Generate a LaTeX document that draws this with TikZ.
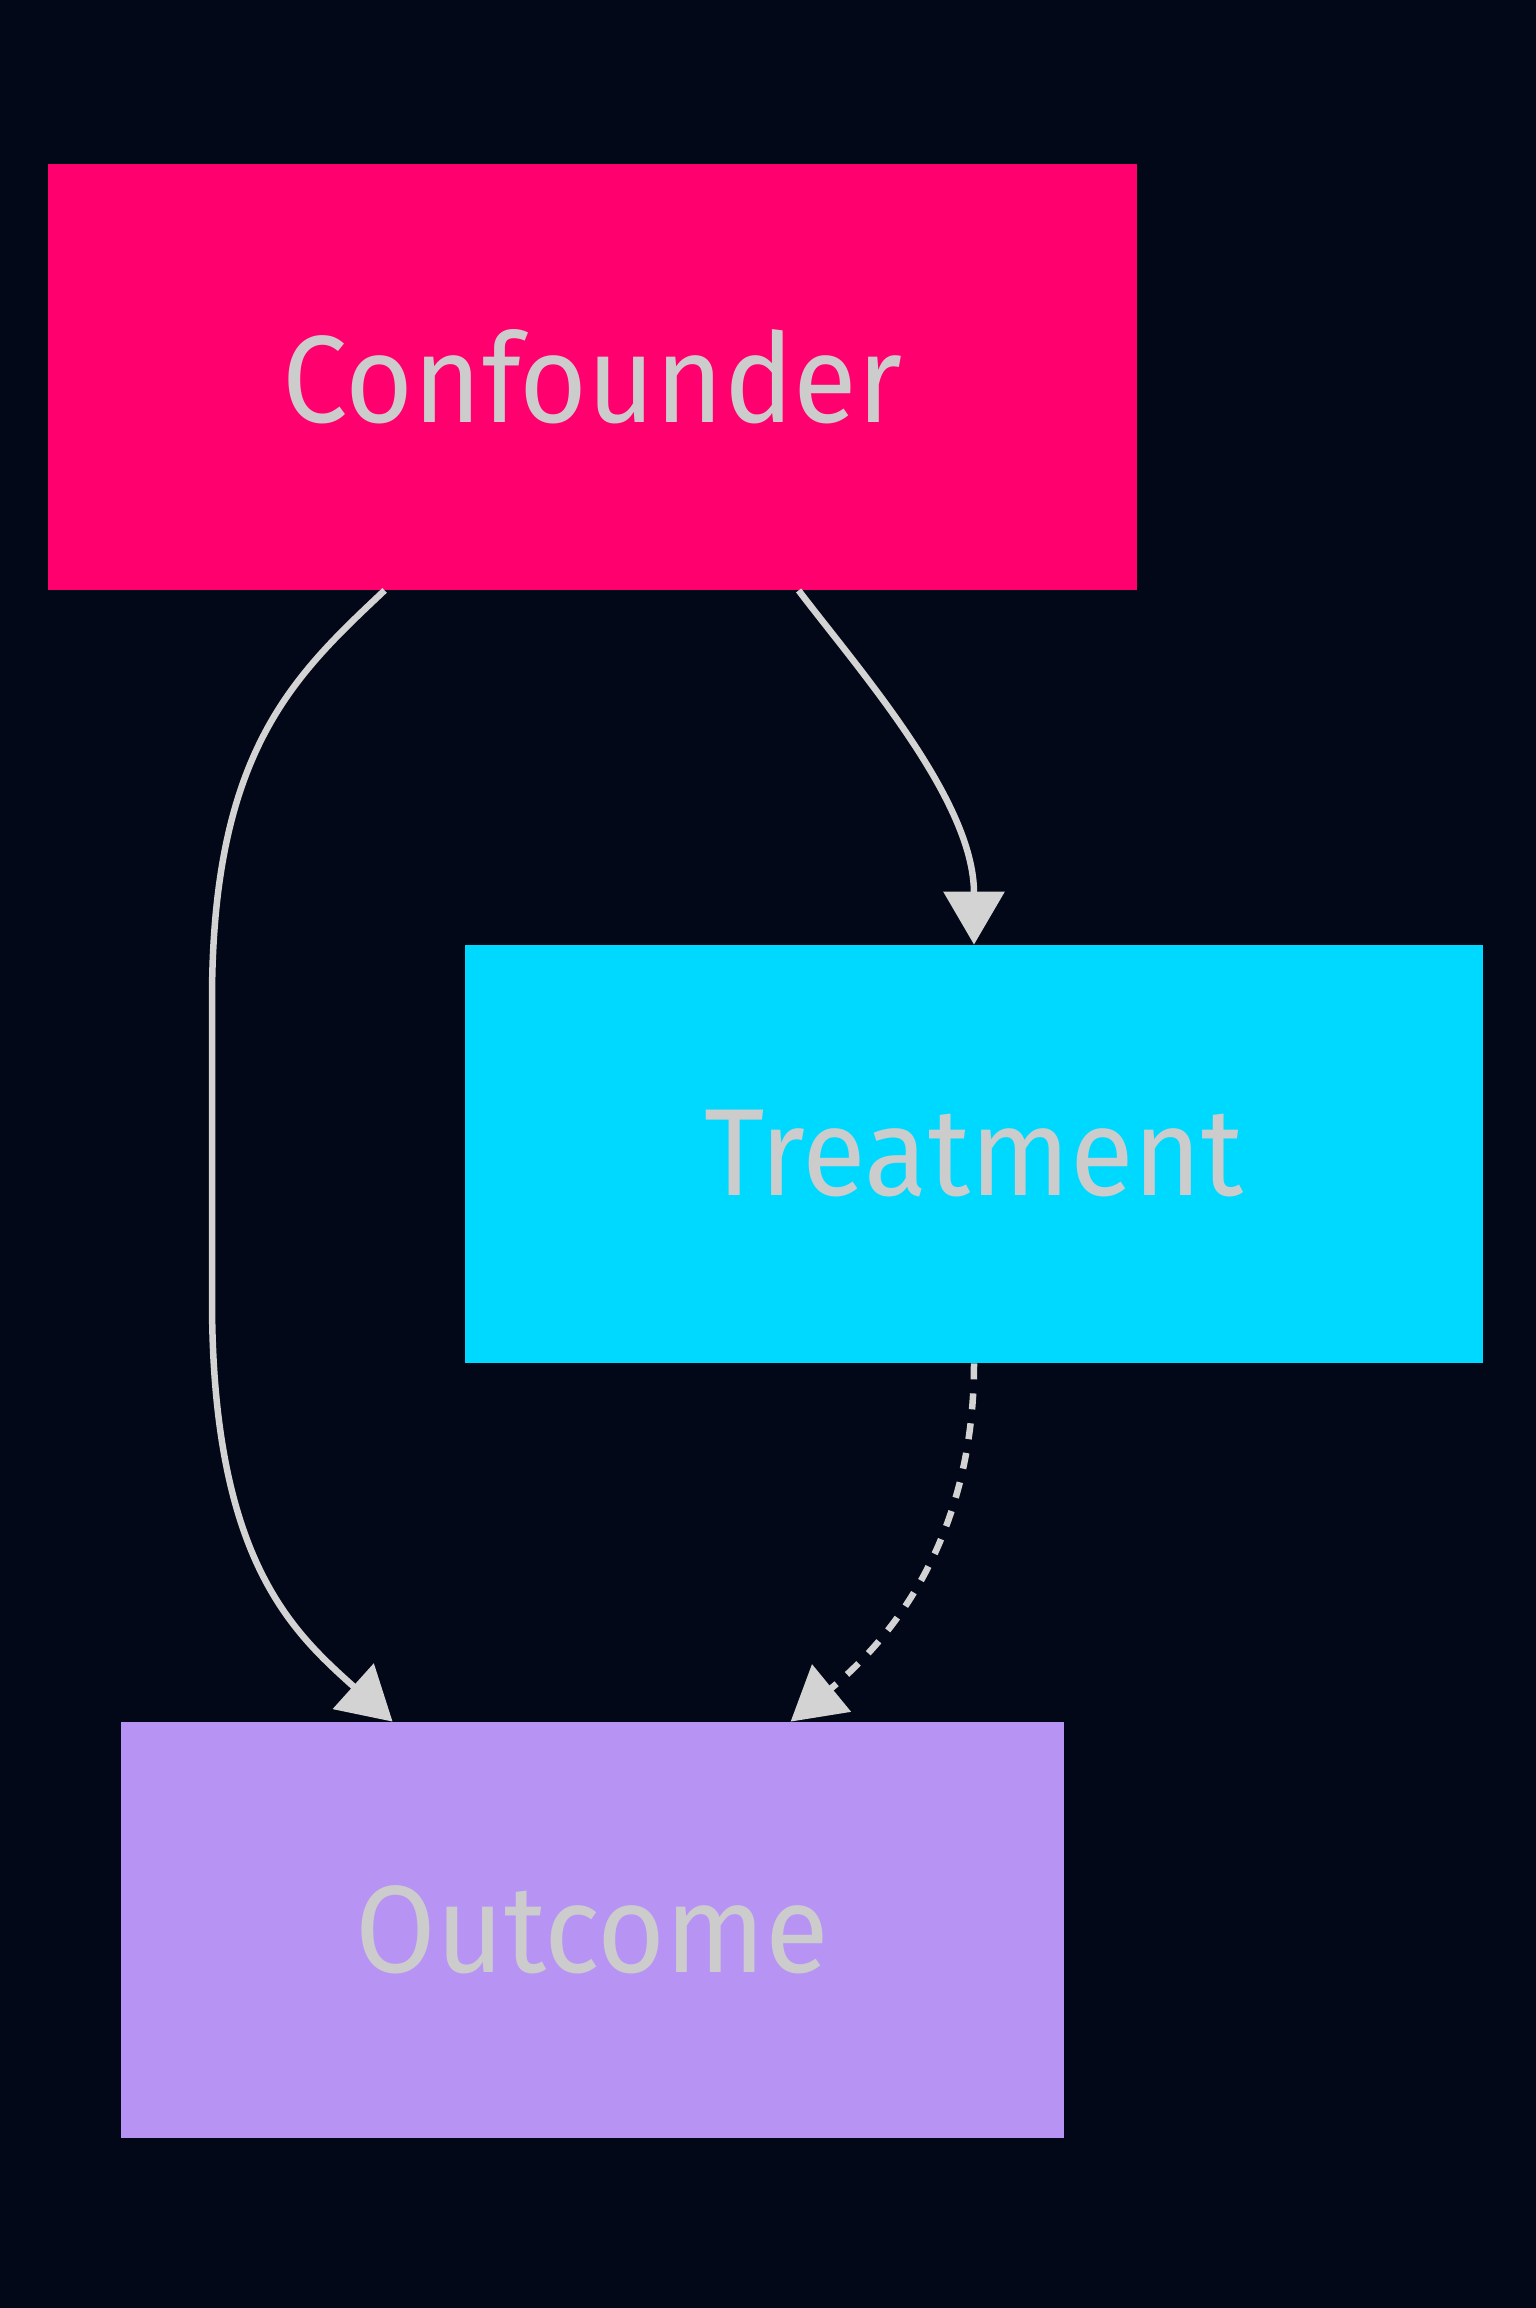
\documentclass[tikz,border=0pt]{standalone}
\usepackage{fontspec}
\setmainfont{Fira Sans}[FakeStretch=0.94]
\usetikzlibrary{arrows.meta}
\definecolor{bg}{HTML}{020817}
\definecolor{confc}{HTML}{FF006E}
\definecolor{treatc}{HTML}{00D9FF}
\definecolor{outcc}{HTML}{B794F4}
\definecolor{txt}{HTML}{CCCCCC}
\definecolor{edgec}{HTML}{D3D3D3}
\begin{document}
\begin{tikzpicture}[x=0.5pt,y=-0.5pt,
  box/.style={rectangle, inner sep=0pt, text=txt, font=\fontsize{62}{70}\selectfont},
  link/.style={draw=edgec, line width=3.25pt, -{Triangle[length=26.5pt,width=30pt]}}]
\fill[bg] (0,0) rectangle (1536,2308);
\useasboundingbox (0,0) rectangle (1536,2308);
\node[box, fill=confc, minimum width=544.5pt, minimum height=213pt] (conf) at (592.5,377) {Confounder};
\node[box, fill=treatc, minimum width=509pt, minimum height=209pt] (treat) at (974,1154) {Treatment};
\node[box, fill=outcc, minimum width=471.5pt, minimum height=208pt] (outc) at (592.5,1930) {Outcome};
\draw[link] ([xshift=168.5pt]conf.south west) .. controls (295,675) and (212,750) .. (212,1000) -- (212,1300) .. controls (212,1560) and (293,1632) .. ([xshift=136pt]outc.north west);
\draw[link] ([xshift=375.5pt]conf.south west) .. controls (859,670) and (974,800) .. (treat.north);
\draw[link, dash pattern=on 8pt off 7pt] (treat.south) .. controls (974,1540) and (890,1640) .. ([xshift=335pt]outc.north west);
\end{tikzpicture}
\end{document}
